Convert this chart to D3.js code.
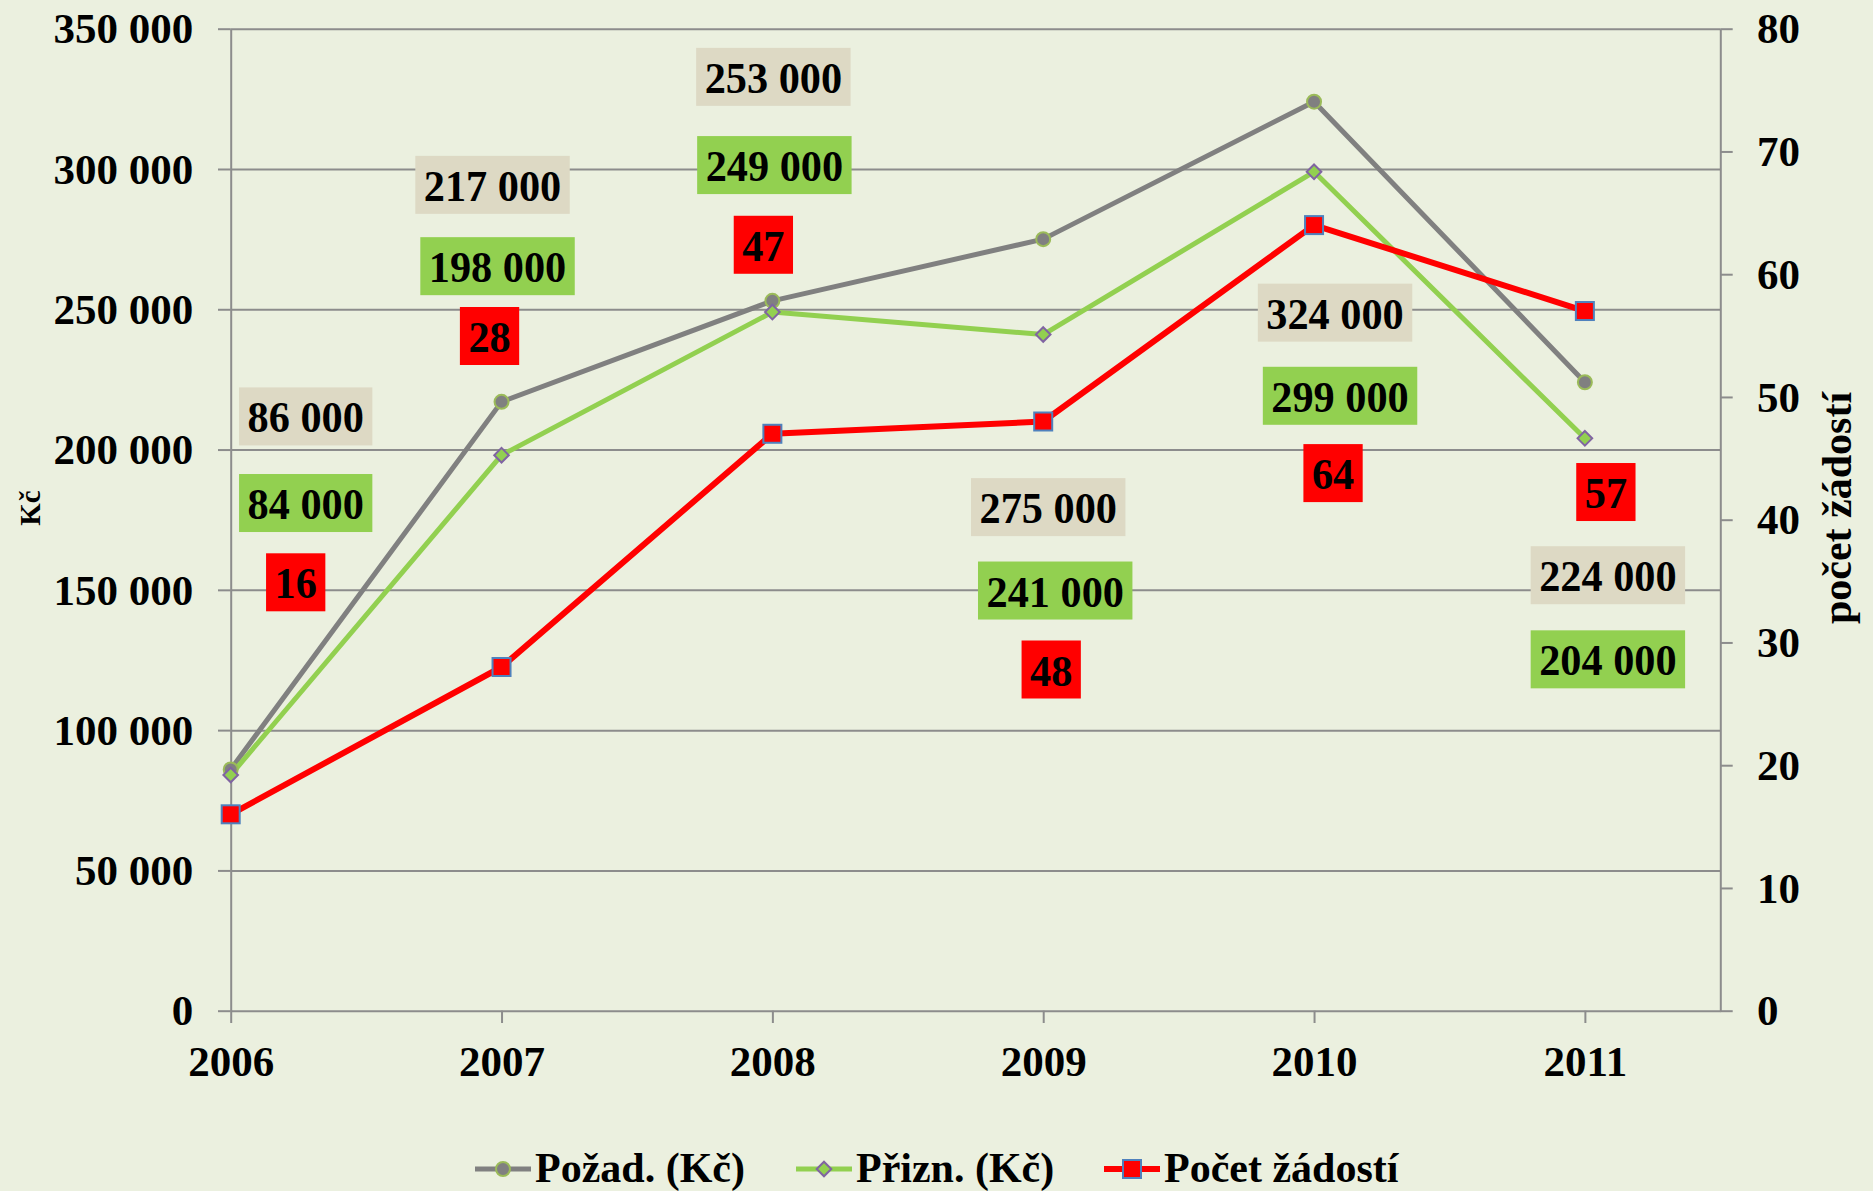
<!DOCTYPE html>
<html><head><meta charset="utf-8">
<script src="https://cdn.jsdelivr.net/npm/d3@7"></script>
<style>
html,body{margin:0;padding:0;background:#EBF0DF;}
svg{display:block;}
text{font-family:"Liberation Serif","Times New Roman",serif;font-weight:bold;fill:#000;}
</style>
</head><body>
<svg id="chart" width="1873" height="1191"></svg>
<script>
// ---- data ----
const years = ["2006","2007","2008","2009","2010","2011"];
const pozad = [86000, 217000, 253000, 275000, 324000, 224000];   // Požad. (Kč)
const prizn = [84000, 198000, 249000, 241000, 299000, 204000];   // Přizn. (Kč)
const pocet = [16, 28, 47, 48, 64, 57];                          // Počet žádostí
const leftTicks = [0, 50000, 100000, 150000, 200000, 250000, 300000, 350000];
const rightTicks = [0, 10, 20, 30, 40, 50, 60, 70, 80];
const seriesNames = ["Požad. (Kč)", "Přizn. (Kč)", "Počet žádostí"];

// ---- layout (label offsets from their data point, px) ----
const pozadLabelOff = [[75,-353],[-9,-217],[1,-224],[5,268],[21,211],[23,193]];
const priznLabelOff = [[75,-272],[-4,-189],[2,-147],[12,256],[26,224],[23,221]];
const pocetLabelOff = [[65,-232],[-12,-331],[-9,-189],[8,248],[19,248],[21,181]];

const svg = d3.select("#chart");
const P = {left:230.7, right:1720.3, top:28.7, bottom:1010.7};
const x = d3.scaleLinear().domain([0, 5.5]).range([P.left, P.right]);
const yL = d3.scaleLinear().domain([0, 350000]).range([P.bottom, P.top]);
const yR = d3.scaleLinear().domain([0, 80]).range([P.bottom, P.top]);
const loc = d3.formatLocale({thousands:" ", grouping:[3], decimal:",", currency:["",""]});
const fmt = loc.format(",d");

const AX = "#8C8C8C";
const GRAY = "#808080", GREEN = "#92D050", RED = "#FF0000";

// gridlines
svg.append("g").attr("transform", `translate(${P.left},0)`)
  .call(d3.axisRight(yL).tickValues(leftTicks.slice(1)).tickSize(P.right-P.left).tickFormat(""))
  .call(g => { g.select(".domain").remove(); g.selectAll("line").attr("stroke", AX).attr("stroke-width", 2); });

// left axis
svg.append("g").attr("transform", `translate(${P.left},0)`)
  .call(d3.axisLeft(yL).tickValues(leftTicks).tickSize(12.7).tickSizeOuter(0).tickPadding(24.7).tickFormat(fmt))
  .call(g => {
    g.select(".domain").attr("stroke", AX).attr("stroke-width", 2);
    g.selectAll("line").attr("stroke", AX).attr("stroke-width", 2);
    g.selectAll("text").attr("font-size", 43).attr("dy", "0.33em").attr("font-family", null);
  });

// right axis
svg.append("g").attr("transform", `translate(${P.right},0)`)
  .call(d3.axisRight(yR).tickValues(rightTicks).tickSize(12.4).tickSizeOuter(0).tickPadding(24.3))
  .call(g => {
    g.select(".domain").attr("stroke", AX).attr("stroke-width", 2);
    g.selectAll("line").attr("stroke", AX).attr("stroke-width", 2);
    g.selectAll("text").attr("font-size", 43).attr("dy", "0.33em").attr("font-family", null);
  });

// bottom axis
svg.append("g").attr("transform", `translate(0,${P.bottom})`)
  .call(d3.axisBottom(x).tickValues(d3.range(years.length)).tickSize(12.3).tickSizeOuter(0).tickPadding(22.2).tickFormat(i => years[i]))
  .call(g => {
    g.select(".domain").attr("stroke", AX).attr("stroke-width", 2);
    g.selectAll("line").attr("stroke", AX).attr("stroke-width", 2);
    g.selectAll("text").attr("font-size", 43).attr("font-family", null);
  });

// axis titles
svg.append("text").attr("transform", "translate(39.5,508) rotate(-90)")
  .attr("text-anchor", "middle").attr("font-size", 29).text("Kč");
svg.append("text").attr("transform", "translate(1851,508) rotate(-90)")
  .attr("text-anchor", "middle").attr("font-size", 42).text("počet žádostí");

// lines
const lineL = d3.line().x((d,i) => x(i)).y(d => yL(d));
const lineR = d3.line().x((d,i) => x(i)).y(d => yR(d));
svg.append("path").attr("d", lineL(pozad)).attr("fill","none").attr("stroke", GRAY).attr("stroke-width", 5).attr("stroke-linejoin","round");
svg.append("path").attr("d", lineL(prizn)).attr("fill","none").attr("stroke", GREEN).attr("stroke-width", 5).attr("stroke-linejoin","round");
svg.append("path").attr("d", lineR(pocet)).attr("fill","none").attr("stroke", RED).attr("stroke-width", 6).attr("stroke-linejoin","round");

// markers
function circleMarker(g, cx, cy){ g.append("circle").attr("cx",cx).attr("cy",cy).attr("r",7).attr("fill",GRAY).attr("stroke","#9BBB59").attr("stroke-width",2); }
function diamondMarker(g, cx, cy){ g.append("path").attr("d",`M${cx},${cy-7.3}L${cx+7.3},${cy}L${cx},${cy+7.3}L${cx-7.3},${cy}Z`).attr("fill",GREEN).attr("stroke","#8064A2").attr("stroke-width",2); }
function squareMarker(g, cx, cy){ g.append("rect").attr("x",cx-9).attr("y",cy-9).attr("width",18).attr("height",18).attr("fill",RED).attr("stroke","#4F81BD").attr("stroke-width",2); }

const mk = svg.append("g");
pozad.forEach((v,i) => circleMarker(mk, x(i), yL(v)));
prizn.forEach((v,i) => diamondMarker(mk, x(i), yL(v)));
pocet.forEach((v,i) => squareMarker(mk, x(i), yR(v)));

// data labels
const SX = 0.94;
function label(cx, cy, txt, fill){
  const g = svg.append("g").attr("transform", `translate(${cx},${cy})`);
  const r = g.append("rect").attr("fill", fill);
  const t = g.append("text").attr("text-anchor","middle").attr("font-size",45)
    .attr("transform", `scale(${SX},1)`).attr("y", 16).text(txt);
  const w = t.node().getComputedTextLength() * SX + 17;
  r.attr("x", -w/2).attr("y", -29).attr("width", w).attr("height", 58);
}
pozad.forEach((v,i) => label(x(i)+pozadLabelOff[i][0], yL(v)+pozadLabelOff[i][1], fmt(v), "#DDD9C4"));
prizn.forEach((v,i) => label(x(i)+priznLabelOff[i][0], yL(v)+priznLabelOff[i][1], fmt(v), GREEN));
pocet.forEach((v,i) => label(x(i)+pocetLabelOff[i][0], yR(v)+pocetLabelOff[i][1], fmt(v), RED));

// legend
const legend = [
  {name: seriesNames[0], x0: 475, color: GRAY, w: 5, m: circleMarker},
  {name: seriesNames[1], x0: 796, color: GREEN, w: 5, m: diamondMarker},
  {name: seriesNames[2], x0: 1104, color: RED, w: 6, m: squareMarker}
];
const LY = 1169;
legend.forEach(d => {
  const g = svg.append("g");
  g.append("line").attr("x1", d.x0).attr("x2", d.x0+56).attr("y1", LY).attr("y2", LY).attr("stroke", d.color).attr("stroke-width", d.w);
  d.m(g, d.x0+28, LY);
  g.append("text").attr("x", d.x0+60).attr("y", 1182).attr("font-size", 42).text(d.name);
});
</script>
</body></html>
